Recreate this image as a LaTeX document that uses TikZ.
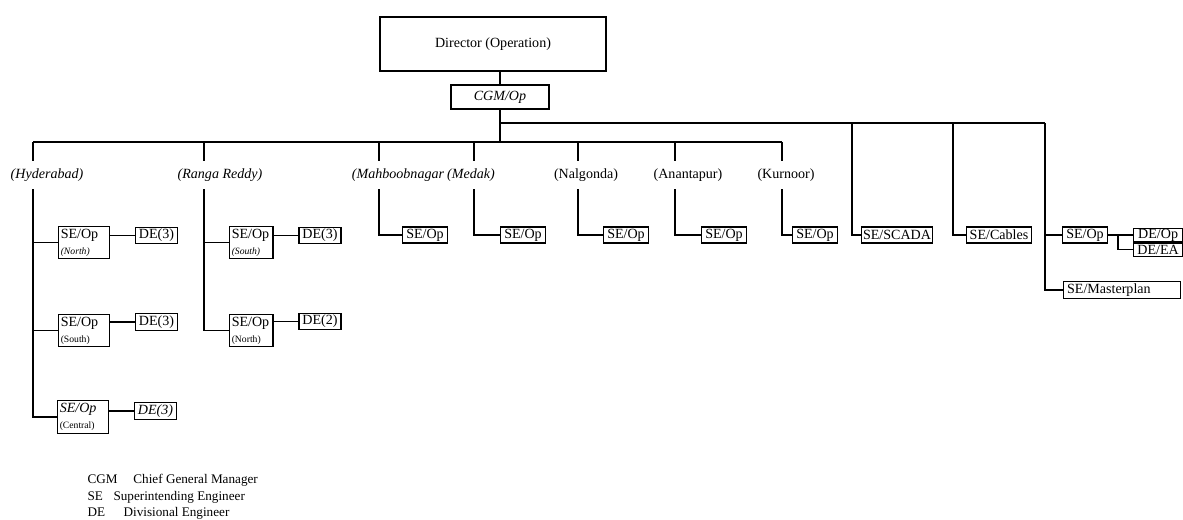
\documentclass[tikz,border=0pt]{standalone}
\usepackage{fontspec}
\setmainfont{Liberation Serif}
\newcommand{\areaname}[1]{{\fontsize{5.5}{6.5}\selectfont #1}}
\begin{document}
\begin{tikzpicture}[x=0.02cm, y=-0.02cm, line width=0.7pt,
  every node/.style={font=\fontsize{8}{9}\selectfont},
  box/.style={draw, inner xsep=2pt, inner ysep=1pt, minimum height=0.32cm},
  twoline/.style={draw, align=left, inner sep=1.5pt, minimum height=0.62cm},
  district/.style={inner xsep=1pt, inner ysep=4pt}]
  \useasboundingbox (0,0) rectangle (1183,520);
  % top of the chart
  \node[draw, minimum width=4.52cm, minimum height=1.08cm] (dir) at (493,44) {Director (Operation)};
  \node[draw, minimum width=1.96cm, minimum height=0.36cm,
    font=\fontsize{8}{9}\selectfont\itshape] (cgm) at (500,97) {CGM/Op};
  \draw (cgm.north) -- (cgm.north |- dir.south);
  % districts
  \node[district, font=\fontsize{8}{9}\selectfont\itshape] (hyd) at (47,175) {(Hyderabad)};
  \node[district, font=\fontsize{8}{9}\selectfont\itshape] (rr) at (220,175) {(Ranga Reddy)};
  \node[district, font=\fontsize{8}{9}\selectfont\itshape] (mah) at (398,175) {(Mahboobnagar};
  \node[district, font=\fontsize{8}{9}\selectfont\itshape] (med) at (471,175) {(Medak)};
  \node[district] (nal) at (586,175) {(Nalgonda)};
  \node[district] (ana) at (688,175) {(Anantapur)};
  \node[district] (kur) at (786,175) {(Kurnoor)};
  \foreach \n/\x in {hyd/33, rr/204, mah/379, med/474, nal/578, ana/675, kur/782}
    \coordinate (top\n) at (\x,142);
  \draw (tophyd) -- (topkur);
  \draw (cgm.south) -- (cgm.south |- tophyd);
  \foreach \n in {hyd, rr, mah, med, nal, ana, kur}
    \draw (top\n) -- (top\n |- \n.north);
  % Hyderabad
  \node[twoline, text width=0.93cm] (hydn) at (84,242.5) {SE/Op\\\areaname{\itshape (North)}};
  \node[twoline, text width=0.93cm] (hyds) at (84,330.5) {SE/Op\\\areaname{(South)}};
  \node[twoline, text width=0.93cm] (hydc) at (83,417) {\textit{SE/Op}\\\areaname{(Central)}};
  \node[box] (hydnde) at (156.5,235.5) {DE(3)};
  \node[box] (hydsde) at (156.5,322) {DE(3)};
  \node[box, font=\fontsize{8}{9}\selectfont\itshape] (hydcde) at (155.5,411) {DE(3)};
  \draw (tophyd |- hyd.south) |- (hydc.west);
  \draw (tophyd |- hydn.west) -- (hydn.west);
  \draw (tophyd |- hyds.west) -- (hyds.west);
  \draw (hydn.east |- hydnde.west) -- (hydnde.west);
  \draw (hyds.east |- hydsde.west) -- (hydsde.west);
  \draw (hydc.east |- hydcde.west) -- (hydcde.west);
  % Ranga Reddy
  \node[twoline, text width=0.77cm] (rrs) at (251,242.5) {SE/Op\\\areaname{\itshape (South)}};
  \node[twoline, text width=0.77cm] (rrn) at (251,330.5) {SE/Op\\\areaname{(North)}};
  \node[box] (rrsde) at (320,235.5) {DE(3)};
  \node[box] (rrnde) at (320,321.5) {DE(2)};
  \draw (toprr |- rr.south) |- (rrn.west);
  \draw (toprr |- rrs.west) -- (rrs.west);
  \draw (rrs.east |- rrsde.west) -- (rrsde.west);
  \draw (rrn.east |- rrnde.west) -- (rrnde.west);
  % single SE offices
  \foreach \n/\x in {mah/425, med/523, nal/626, ana/724, kur/815} {
    \node[box] (se\n) at (\x,235) {SE/Op};
    \draw (top\n |- \n.south) |- (se\n.west);
  }
  % offices on the upper line
  \coordinate (topscada) at (852,123);
  \coordinate (topcab) at (953,123);
  \coordinate (topop) at (1045,123);
  \node[box, inner xsep=1pt] (scada) at (897,235) {SE/SCADA};
  \node[box] (cables) at (999,235) {SE/Cables};
  \node[box] (seop) at (1085,235) {SE/Op};
  \node[box, anchor=west, text width=2.2cm, align=left] (master) at (1063,290) {SE/Masterplan};
  \node[draw, anchor=west, inner xsep=1pt, inner ysep=0pt, minimum width=0.98cm,
    minimum height=0.27cm, align=left] (deop) at (1133,235) {DE/Op};
  \node[draw, anchor=north west, inner xsep=1pt, inner ysep=0pt, minimum width=0.98cm,
    minimum height=0.27cm, align=left] (deea) at (deop.south west) {DE/EA};
  \draw (cgm.south |- topop) -- (topop);
  \draw (topscada) |- (scada.west);
  \draw (topcab) |- (cables.west);
  \draw (topop) |- (master.west);
  \draw (topop |- seop.west) -- (seop.west);
  \draw (seop.east) -- (deop.west);
  \coordinate (fork) at (1118,235);
  \draw (fork) |- (deea.west);
  % abbreviations
  \node[anchor=north west, align=left, inner sep=0pt,
    font=\fontsize{7.5}{9.4}\selectfont] (legend) at (87,474)
    {CGM\hspace{1.2em}Chief General Manager\\
     SE\hspace{0.8em}Superintending Engineer\\
     DE\hspace{1.4em}Divisional Engineer};
\end{tikzpicture}
\end{document}
